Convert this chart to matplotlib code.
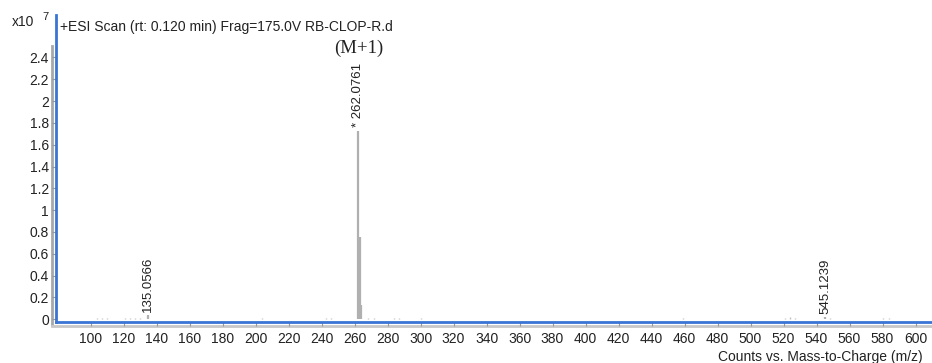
import matplotlib.pyplot as plt
from matplotlib.lines import Line2D

plt.rcParams['font.family'] = 'Liberation Sans'

# main peaks (m/z, counts x10^7)
peak_mz = [135.0566, 262.0761, 262.55, 263.08, 264.07, 545.1239]
peak_int = [0.04, 1.73, 0.37, 0.75, 0.13, 0.02]

# small background peaks
noise_mz = [104, 107, 110, 121, 124, 127, 130, 150, 186, 204, 226, 243, 246, 268, 272,
            284, 287, 300, 311, 326, 352, 368, 398, 440, 459, 478, 481, 503, 521, 524,
            527, 548, 566, 580, 584, 588]
noise_int = [0.008, 0.01, 0.008, 0.01, 0.012, 0.008, 0.008, 0.005, 0.005, 0.008, 0.005,
             0.008, 0.01, 0.01, 0.008, 0.015, 0.01, 0.008, 0.006, 0.005, 0.005, 0.005,
             0.005, 0.005, 0.008, 0.006, 0.006, 0.005, 0.01, 0.018, 0.01, 0.012, 0.005,
             0.008, 0.01, 0.006]

labels = ['135.0566', '* 262.0761', '545.1239']
label_mz = [135.0566, 262.0761, 545.1239]
label_y = [0.07, 1.76, 0.05]

xticks = list(range(100, 601, 20))
yticks = [0, 0.2, 0.4, 0.6, 0.8, 1, 1.2, 1.4, 1.6, 1.8, 2, 2.2, 2.4]

fig = plt.figure(figsize=(9.32, 3.63), dpi=100)
ax = fig.add_axes([0.060, 0.113, 0.940, 0.846])

ax.vlines(noise_mz, 0, noise_int, colors='#c0c0c0', lw=1)
ax.vlines(peak_mz, 0, peak_int, colors='#b0b0b0', lw=1.6)

for t, x, y in zip(labels, label_mz, label_y):
    ax.text(x, y, t, rotation=90, ha='center', va='bottom', fontsize=9.5, color='#222222')

ax.text(262.3, 2.48, '(M+1)', ha='center', va='center', fontsize=13.5,
        family='Liberation Serif', color='#222222')

ax.set_xlim(79, 610)
ax.set_ylim(-0.025, 2.79)
ax.set_xticks(xticks)
ax.set_yticks(yticks)
ax.set_yticklabels(['0', '0.2', '0.4', '0.6', '0.8', '1', '1.2', '1.4', '1.6', '1.8',
                    '2', '2.2', '2.4'])
ax.tick_params(axis='both', labelsize=10, length=3, color='#999999', labelcolor='#222222')
ax.tick_params(axis='y', pad=2)
ax.tick_params(axis='x', pad=4)

for s in ['top', 'right']:
    ax.spines[s].set_visible(False)
for s in ['left', 'bottom']:
    ax.spines[s].set_color('#3a74d6')
    ax.spines[s].set_linewidth(2)

# grey shadow along the axes
ax.add_line(Line2D([-0.004, -0.004], [-0.01, 0.9], transform=ax.transAxes,
                   color='#a8a8a8', lw=2, clip_on=False, zorder=1))
ax.add_line(Line2D([-0.004, 1.0], [-0.012, -0.012], transform=ax.transAxes,
                   color='#c8c8c8', lw=2, clip_on=False, zorder=1))

ax.text(0.005, 0.96, '+ESI Scan (rt: 0.120 min) Frag=175.0V RB-CLOP-R.d',
        transform=ax.transAxes, fontsize=10, va='center', ha='left', color='#222222')
fig.text(0.013, 0.94, 'x10', fontsize=10, va='center', ha='left', color='#222222')
fig.text(0.046, 0.952, '7', fontsize=8, va='center', ha='left', color='#222222')
fig.text(0.990, 0.017, 'Counts vs. Mass-to-Charge (m/z)', fontsize=10, ha='right',
         va='center', color='#222222')

fig.savefig('out.png', dpi=100)
